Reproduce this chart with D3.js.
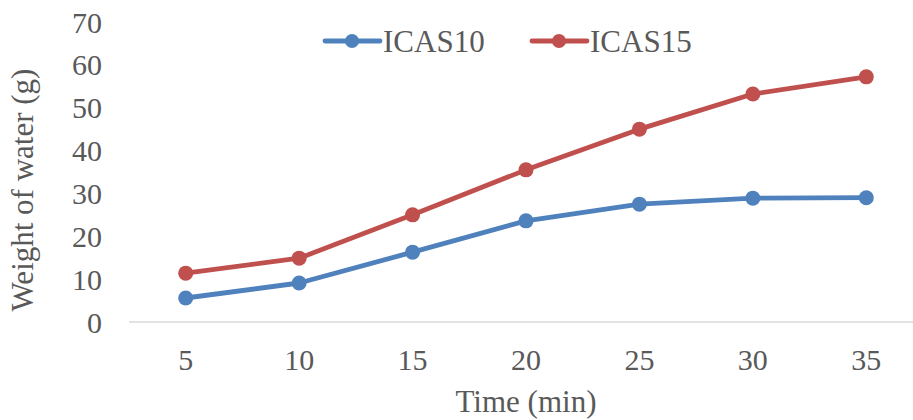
<!DOCTYPE html>
<html>
<head>
<meta charset="utf-8">
<script src="https://cdn.jsdelivr.net/npm/d3@7"></script>
<style>
  html, body { margin: 0; padding: 0; background: #fff; }
  text { font-family: "Liberation Serif", "Times New Roman", serif; fill: #595959; }
</style>
</head>
<body>
<svg id="chart" width="913" height="420"></svg>
<script>
const times = [5, 10, 15, 20, 25, 30, 35];
const icas10 = [5.6, 9.1, 16.3, 23.6, 27.5, 28.9, 29.0];
const icas15 = [11.4, 14.9, 25.0, 35.5, 45.0, 53.2, 57.2];
const yTicks = [0, 10, 20, 30, 40, 50, 60, 70];
const seriesNames = ["ICAS10", "ICAS15"];
const seriesColors = ["#4F81BD", "#C0504D"];

const svg = d3.select("#chart");
const plot = { left: 129, right: 923, top: 22, bottom: 322 };

const x = d3.scaleBand().domain(times).range([plot.left, plot.right]);
const y = d3.scaleLinear().domain([0, 70]).range([plot.bottom, plot.top]);
const cx = d => x(d) + x.bandwidth() / 2;

// Category axis line
svg.append("line")
  .attr("x1", plot.left).attr("x2", 913)
  .attr("y1", y(0)).attr("y2", y(0))
  .attr("stroke", "#d9d9d9").attr("stroke-width", 1.5);

// Y tick labels
svg.append("g").selectAll("text").data(yTicks).join("text")
  .attr("x", 102).attr("y", d => y(d))
  .attr("dy", "0.35em")
  .attr("text-anchor", "end")
  .attr("font-size", 30)
  .text(d => d);

// X tick labels
svg.append("g").selectAll("text").data(times).join("text")
  .attr("x", d => cx(d)).attr("y", 370)
  .attr("text-anchor", "middle")
  .attr("font-size", 30)
  .text(d => d);

// Axis titles
svg.append("text")
  .attr("x", 526).attr("y", 412)
  .attr("text-anchor", "middle")
  .attr("font-size", 31)
  .text("Time (min)");

svg.append("text")
  .attr("transform", "translate(33,190) rotate(-90)")
  .attr("text-anchor", "middle")
  .attr("font-size", 31)
  .text("Weight of water (g)");

// Series lines and markers
const data = [icas10, icas15];
const line = d3.line().x((d, i) => cx(times[i])).y(d => y(d));

data.forEach((vals, s) => {
  svg.append("path")
    .datum(vals)
    .attr("d", line)
    .attr("fill", "none")
    .attr("stroke", seriesColors[s])
    .attr("stroke-width", 4.8)
    .attr("stroke-linejoin", "round")
    .attr("stroke-linecap", "round");
  svg.append("g").selectAll("circle").data(vals).join("circle")
    .attr("cx", (d, i) => cx(times[i]))
    .attr("cy", d => y(d))
    .attr("r", 7.5)
    .attr("fill", seriesColors[s]);
});

// Legend
const legendX = [325, 532];
seriesNames.forEach((name, s) => {
  const g = svg.append("g").attr("transform", `translate(${legendX[s]},41)`);
  g.append("line")
    .attr("x1", 0).attr("x2", 55)
    .attr("stroke", seriesColors[s]).attr("stroke-width", 4.8)
    .attr("stroke-linecap", "round");
  g.append("circle").attr("cx", 27).attr("r", 7).attr("fill", seriesColors[s]);
  g.append("text")
    .attr("x", 58).attr("y", 11)
    .attr("font-size", 31)
    .text(name);
});
</script>
</body>
</html>
